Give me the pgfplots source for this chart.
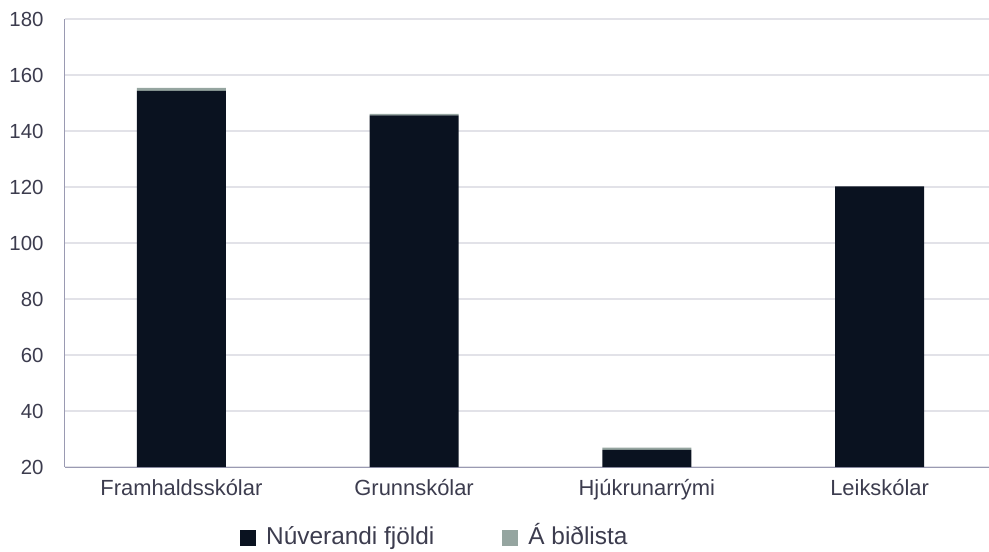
\documentclass[border=0pt]{standalone}
\usepackage{pgfplots}
\pgfplotsset{compat=1.18}
\usepackage{fontspec}
\setmainfont{Liberation Sans}
\definecolor{barnavy}{HTML}{0A1220}
\definecolor{bargrey}{HTML}{95A5A0}
\definecolor{txt}{HTML}{3C3C4E}
\definecolor{axisline}{HTML}{9A9AB2}
\definecolor{gridc}{HTML}{E2E2E8}
\begin{document}
\begin{tikzpicture}
\begin{axis}[
  at={(0,0)}, anchor=south west,
  scale only axis, width=924bp, height=448bp,
  ybar stacked, bar width=89bp,
  xmin=-0.5, xmax=3.47,
  ymin=20, ymax=180, ytick={20,40,...,180},
  xtick=data,
  xticklabels={Framhaldsskólar,Grunnskólar,Hjúkrunarrými,Leikskólar},
  /pgf/number format/assume math mode=true,
  major tick length=0pt,
  axis x line*=bottom, axis y line*=left,
  axis line style={axisline, line width=1bp},
  ymajorgrids, grid style={gridc, line width=1.2bp},
  yticklabel style={font=\fontsize{20.5}{24}\selectfont, text=txt, anchor=east, xshift=-18bp},
  xticklabel style={font=\fontsize{22}{26}\selectfont, text=txt, anchor=north, yshift=-9bp},
  legend columns=2,
  legend style={draw=none, fill=none, at={(172bp,-55bp)}, anchor=north west,
    font=\fontsize{24.5}{28}\selectfont, text=txt,
    nodes={text height=18bp, text depth=5bp},
    /tikz/every odd column/.append style={column sep=8bp},
    /tikz/every even column/.append style={column sep=66bp}},
  legend image code/.code={\fill[#1] (0bp,-8bp) rectangle (16bp,8bp);},
]
\addplot[fill=barnavy, draw=none] coordinates {(0,154.3) (1,145.6) (2,26.1) (3,120.2)};
\addplot[fill=bargrey, draw=none] coordinates {(0,1.1) (1,0.5) (2,0.8) (3,0)};
\legend{Núverandi fjöldi, Á biðlista}
\end{axis}
\pgfresetboundingbox
\path[use as bounding box] (-65bp,-85bp) rectangle (924bp,467bp);
\end{tikzpicture}
\end{document}
